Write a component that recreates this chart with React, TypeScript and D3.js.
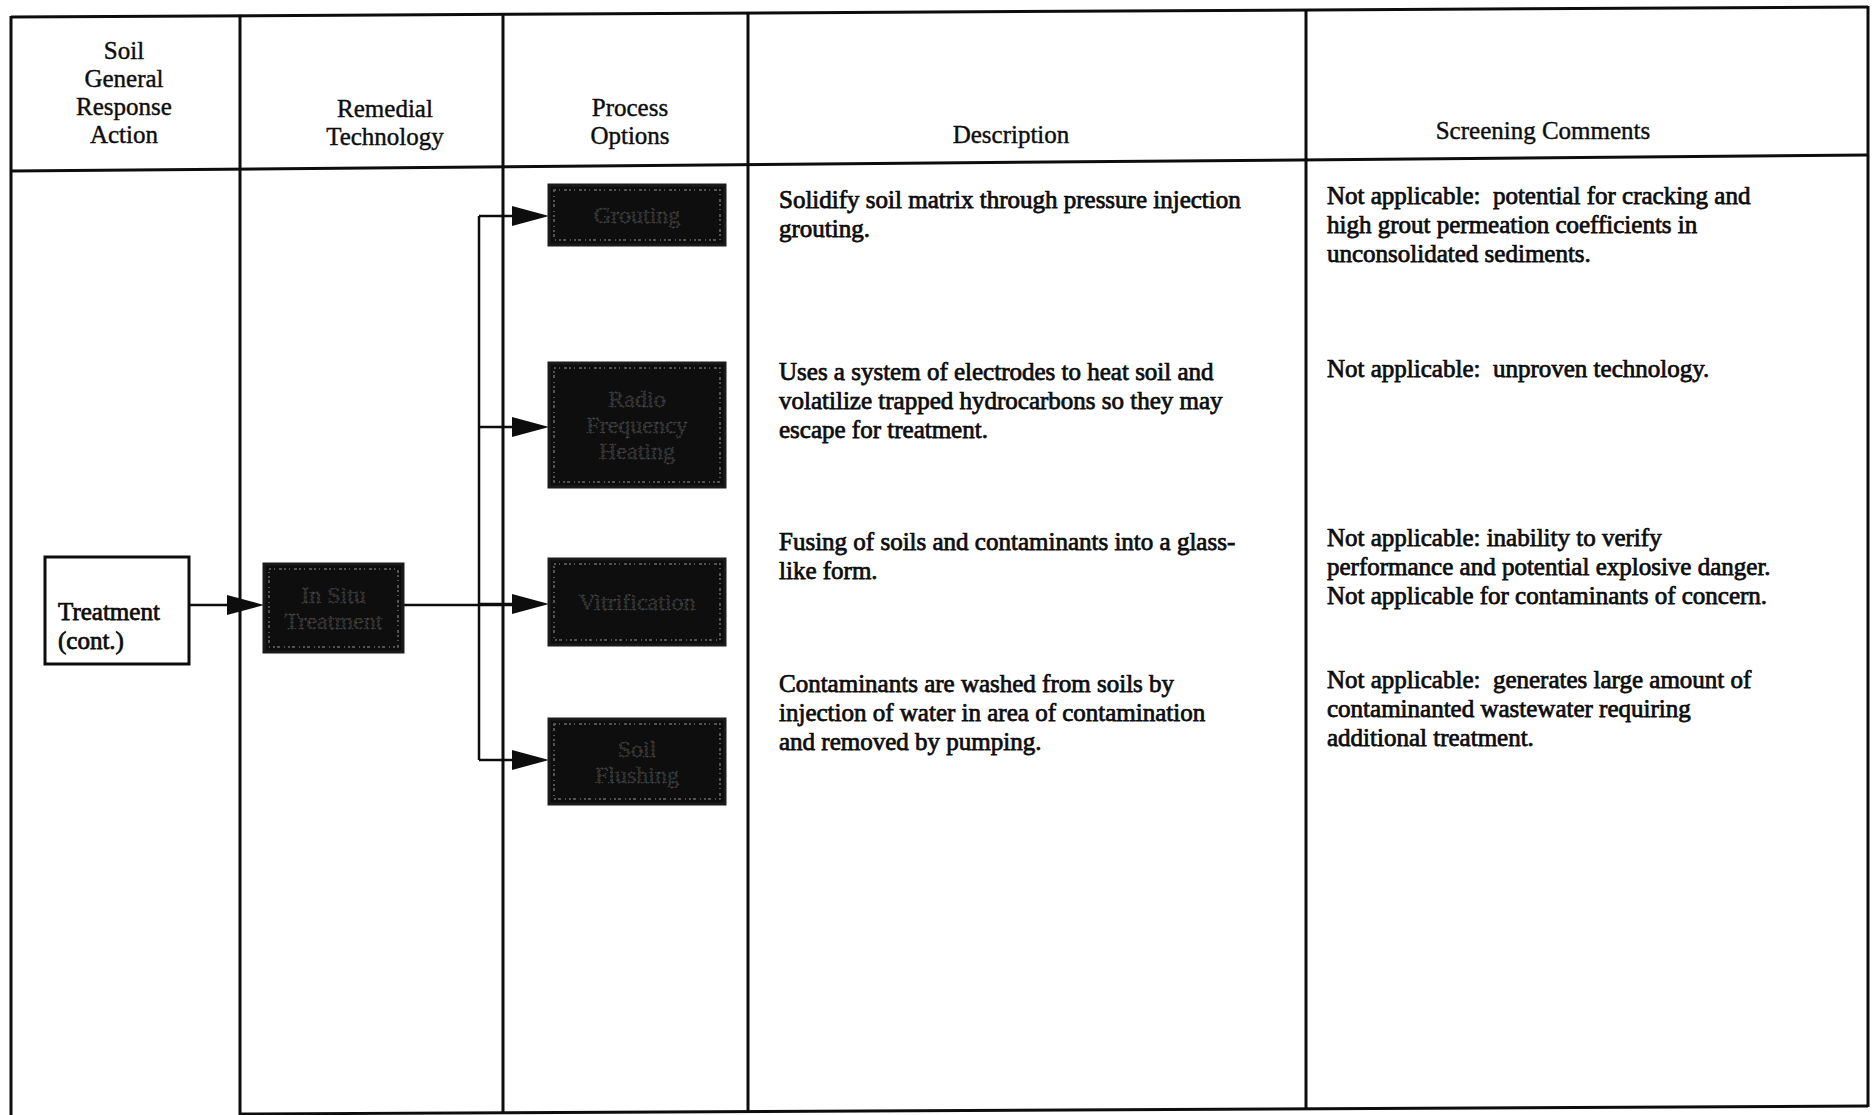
import React from 'react';
import * as d3 from 'd3';

// Table content
const headers: string[][] = [
  ['Soil', 'General', 'Response', 'Action'],
  ['Remedial', 'Technology'],
  ['Process', 'Options'],
  ['Description'],
  ['Screening Comments'],
];
const actionLabel = ['Treatment', '(cont.)'];
const technologyLabel = ['In Situ', 'Treatment'];
const processOptions: string[][] = [
  ['Grouting'],
  ['Radio', 'Frequency', 'Heating'],
  ['Vitrification'],
  ['Soil', 'Flushing'],
];
const descriptions: string[][] = [
  ['Solidify soil matrix through pressure injection', 'grouting.'],
  ['Uses a system of electrodes to heat soil and', 'volatilize trapped hydrocarbons so they may', 'escape for treatment.'],
  ['Fusing of soils and contaminants into a glass-', 'like form.'],
  ['Contaminants are washed from soils by', 'injection of water in area of contamination', 'and removed by pumping.'],
];
const comments: string[][] = [
  ['Not applicable:  potential for cracking and', 'high grout permeation coefficients in', 'unconsolidated sediments.'],
  ['Not applicable:  unproven technology.'],
  ['Not applicable: inability to verify', 'performance and potential explosive danger.', 'Not applicable for contaminants of concern.'],
  ['Not applicable:  generates large amount of', 'contaminanted wastewater requiring', 'additional treatment.'],
];

// Layout (page pixels)
const W = 1874;
const H = 1115;
const colEdges = [11, 240, 503, 748, 1306, 1868];
const headerCenterX = [124, 385, 630, 1011, 1543];
const headerFirstBaseline = [59, 117, 116, 143, 139];
const optionBoxes = [
  [185, 245],
  [363, 487],
  [559, 645],
  [719, 804],
];
const optionArrowY = [216, 427, 604, 760];
const descBaseline = [208, 380, 550, 692];
const commentBaseline = [204, 377, 546, 688];

const FONT = '"Liberation Serif", "Times New Roman", serif';
const INK = '#0d0d0d';

const App: React.FC = () => {
  // slight scan tilt of the horizontal rules
  const topRule = d3.scaleLinear().domain([colEdges[0], colEdges[5]]).range([17, 7]);
  const headRule = d3.scaleLinear().domain([colEdges[0], colEdges[5]]).range([171, 155]);
  const bottomRule = d3.scaleLinear().domain([colEdges[1], colEdges[5]]).range([1114, 1106]);

  const lineH = 29;

  const optX0 = 549;
  const optX1 = 725;
  const branchX = 479;
  const flowY = 605;

  const arrowHead = (tipX: number, y: number) => {
    const len = 37;
    const half = 10;
    return d3.line()([
      [tipX, y],
      [tipX - len, y - half],
      [tipX - len, y + half],
      [tipX, y],
    ]) as string;
  };

  const rule = (s: d3.ScaleLinear<number, number>) => {
    const [a, b] = s.domain();
    return d3.line()([
      [a, s(a)],
      [b, s(b)],
    ]) as string;
  };

  const darkBox = (x0: number, y0: number, x1: number, y1: number, lines: string[], key: string) => {
    const cy = (y0 + y1) / 2;
    const start = cy - ((lines.length - 1) * 26) / 2 + 8;
    return (
      <g key={key}>
        <rect x={x0} y={y0} width={x1 - x0} height={y1 - y0} fill="#0e0e0e" stroke="#1a1a1a" strokeWidth={3} />
        <rect
          x={x0 + 5}
          y={y0 + 5}
          width={x1 - x0 - 10}
          height={y1 - y0 - 10}
          fill="none"
          stroke="#6a6a6a"
          strokeWidth={1.5}
          strokeDasharray="2 3 1 4 3 2"
        />
        {lines.map((t, i) => (
          <text
            key={i}
            x={(x0 + x1) / 2}
            y={start + i * 26}
            textAnchor="middle"
            fontFamily={FONT}
            fontSize={24}
            fill="#2c2c2c"
            stroke="#5a5a5a"
            strokeWidth={0.8}
            strokeDasharray="1 3"
          >
            {t}
          </text>
        ))}
      </g>
    );
  };

  const textBlock = (x: number, y: number, lines: string[], key: string) => (
    <g key={key}>
      {lines.map((t, i) => (
        <text
          key={i}
          x={x}
          y={y + i * lineH}
          fontFamily={FONT}
          fontSize={25}
          fill={INK}
          stroke={INK}
          strokeWidth={0.75}
          style={{ whiteSpace: 'pre' }}
        >
          {t}
        </text>
      ))}
    </g>
  );

  return (
    <div style={{ position: 'absolute', left: 0, top: 0, width: W, height: H, background: '#fff' }}>
      <svg width={W} height={H} style={{ display: 'block' }}>
        <rect width={W} height={H} fill="#fff" />

        {/* table rules */}
        <g stroke={INK} strokeWidth={3} fill="none">
          <path d={rule(topRule)} />
          <path d={rule(headRule)} />
          <path d={rule(bottomRule)} />
          {colEdges.map((x, i) => (
            <line key={i} x1={x} x2={x} y1={topRule(x) - 1} y2={i === 0 ? H : Math.min(H, bottomRule(x) + 1)} />
          ))}
        </g>

        {/* headers */}
        {headers.map((lines, c) => (
          <g key={c}>
            {lines.map((t, i) => (
              <text
                key={i}
                x={headerCenterX[c]}
                y={headerFirstBaseline[c] + i * 28}
                textAnchor="middle"
                fontFamily={FONT}
                fontSize={25}
                fill={INK}
                stroke={INK}
                strokeWidth={0.4}
              >
                {t}
              </text>
            ))}
          </g>
        ))}

        {/* general response action box */}
        <rect x={45} y={557} width={144} height={107} fill="#fff" stroke={INK} strokeWidth={3} />
        {textBlock(58, 620, actionLabel, 'action')}

        {/* flow lines */}
        <g stroke={INK} strokeWidth={2.5} fill="none">
          <line x1={189} x2={240} y1={flowY} y2={flowY} />
          <line x1={403} x2={optX0 - 30} y1={flowY} y2={flowY} />
          <line x1={branchX} x2={branchX} y1={optionArrowY[0]} y2={optionArrowY[3]} />
          {optionArrowY.map((y, i) => (
            <line key={i} x1={branchX} x2={optX0 - 30} y1={y} y2={y} />
          ))}
        </g>
        <g fill={INK}>
          <path d={arrowHead(264, flowY)} />
          {optionArrowY.map((y, i) => (
            <path key={i} d={arrowHead(optX0, y)} />
          ))}
        </g>

        {/* remedial technology box */}
        {darkBox(264, 564, 403, 652, technologyLabel, 'tech')}

        {/* process option boxes */}
        {processOptions.map((lines, i) =>
          darkBox(optX0, optionBoxes[i][0], optX1, optionBoxes[i][1], lines, `opt${i}`)
        )}

        {/* descriptions and comments */}
        {descriptions.map((lines, i) => textBlock(779, descBaseline[i], lines, `d${i}`))}
        {comments.map((lines, i) => textBlock(1327, commentBaseline[i], lines, `c${i}`))}
      </svg>
    </div>
  );
};

export default App;
